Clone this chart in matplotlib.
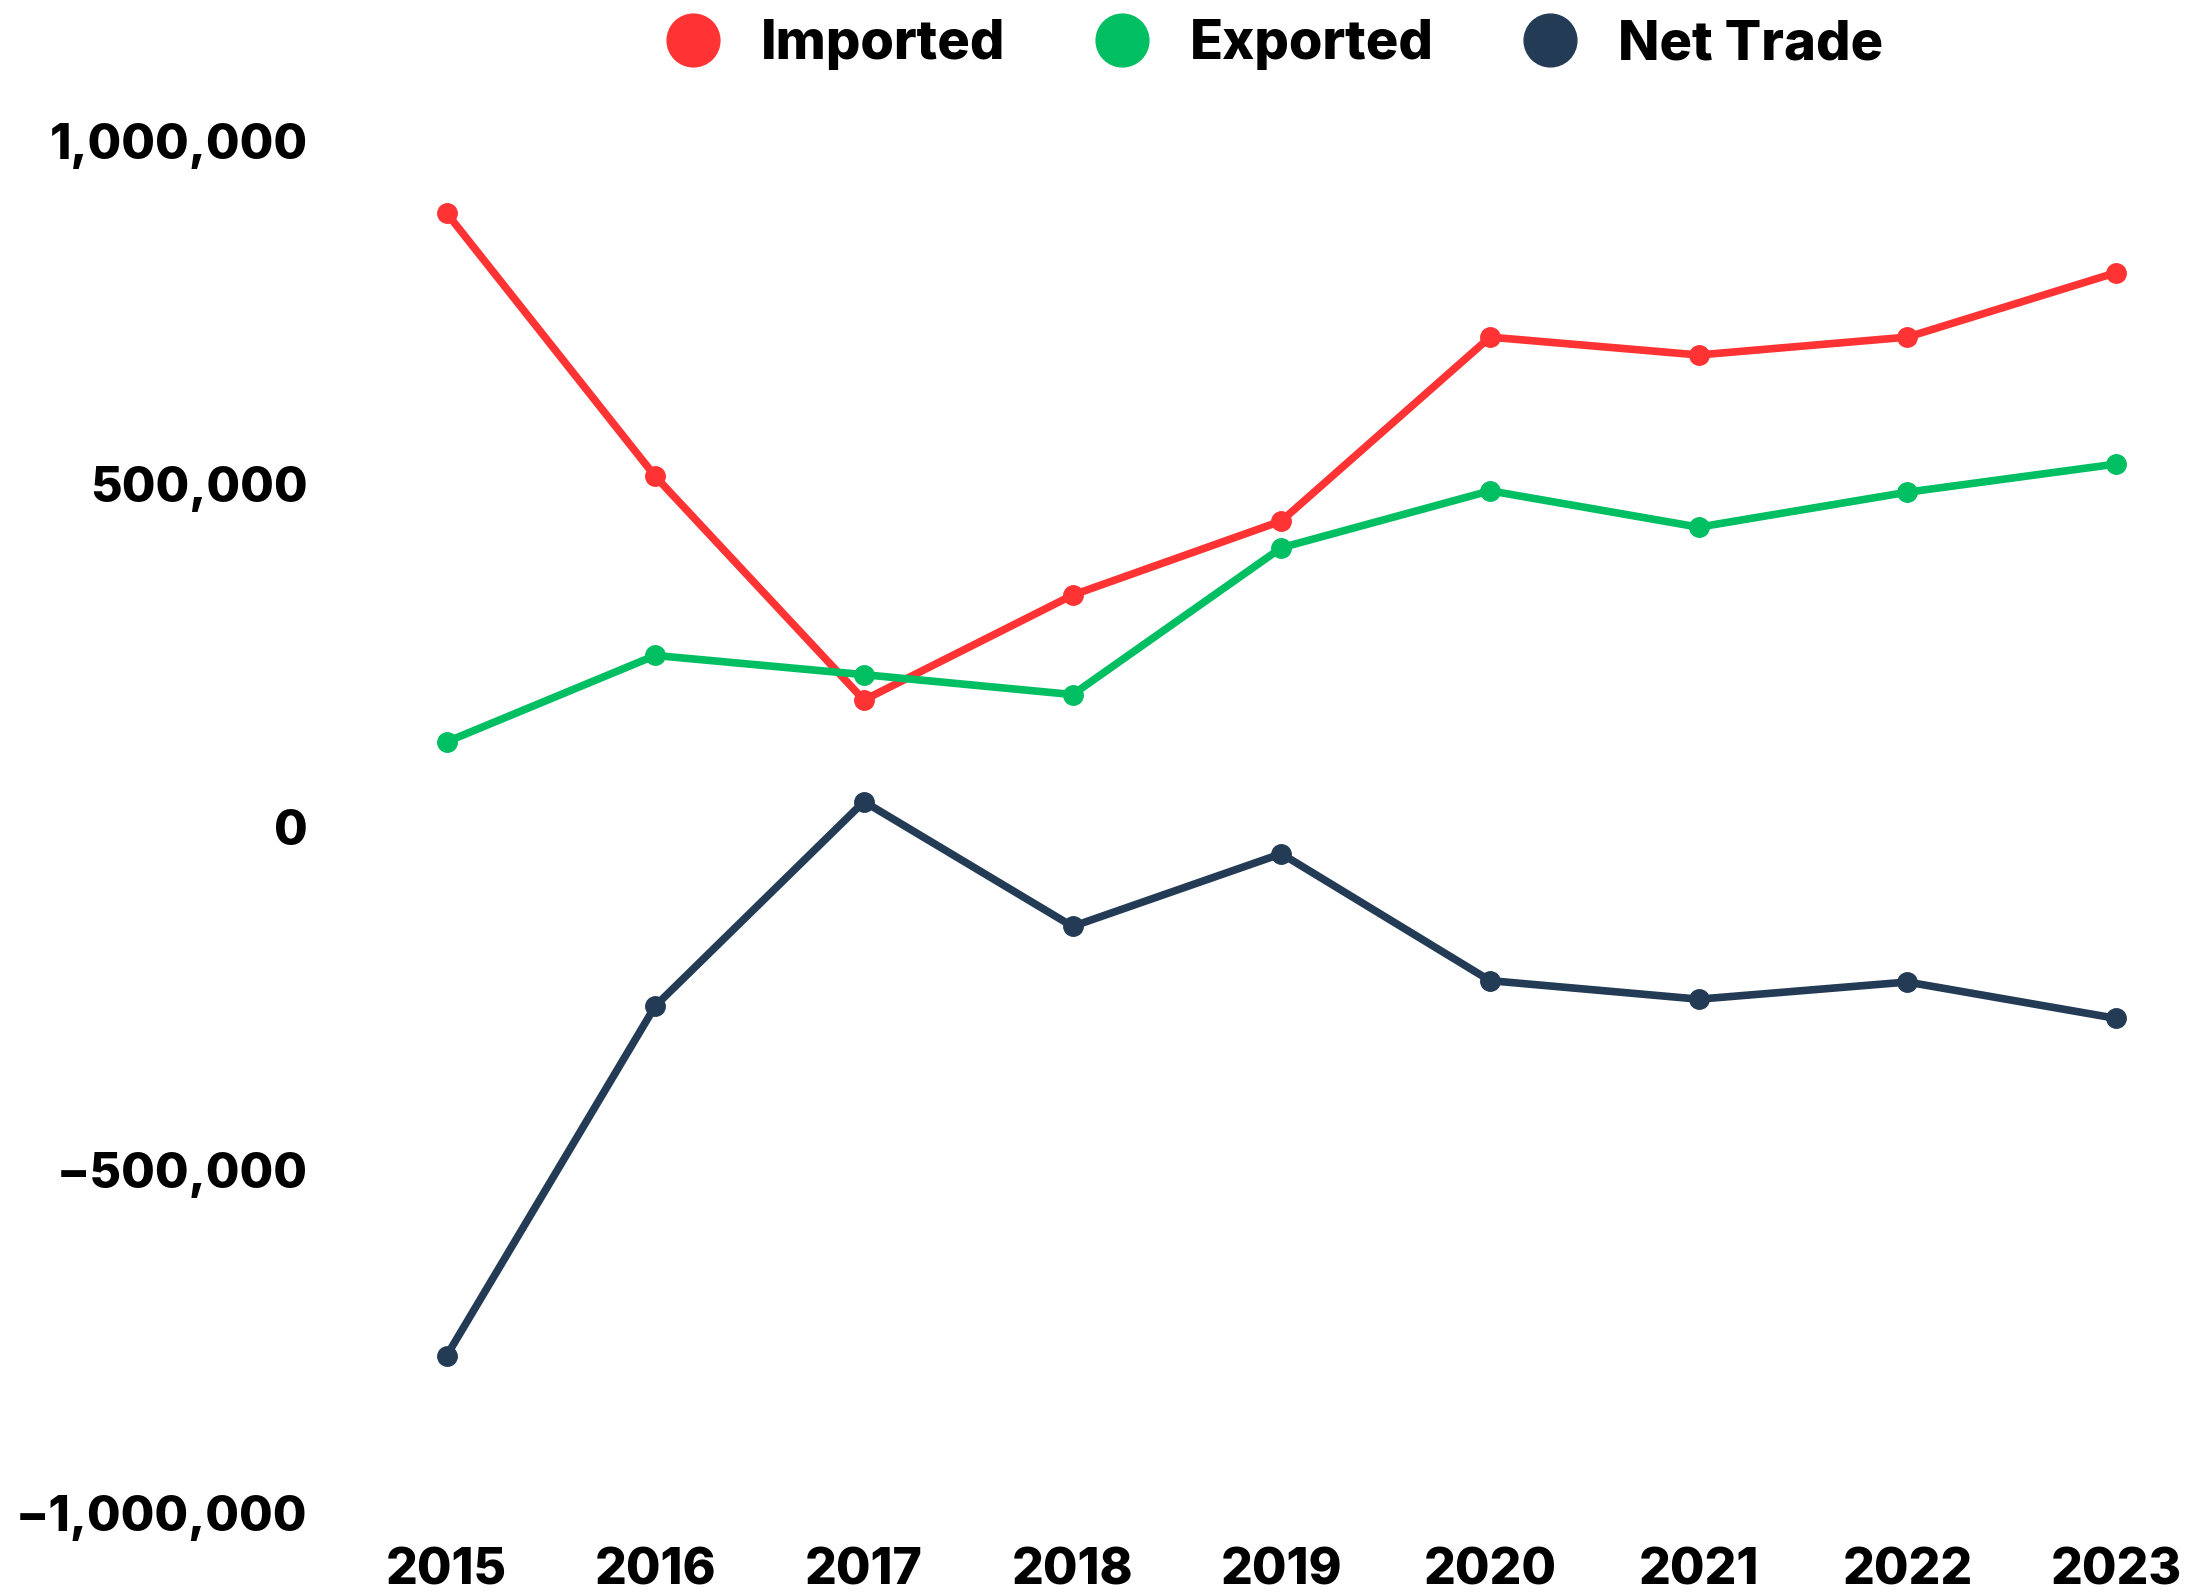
import numpy as np
import matplotlib.pyplot as plt
from matplotlib.ticker import FuncFormatter
from matplotlib.lines import Line2D

# dados
anos = [2015, 2016, 2017, 2018, 2019, 2020, 2021, 2022, 2023]
importado = [895000, 511000, 185000, 338000, 446000, 714000, 688000, 714000, 808000]
exportado = [124000, 250000, 222000, 193000, 407000, 490000, 437000, 488000, 529000]
saldo = [-771000, -261000, 37000, -145000, -39000, -224000, -251000, -226000, -279000]

cores = {'Imported': '#FF3333', 'Exported': '#00BF63', 'Net Trade': '#243B55'}
fonte = 'Inter'

fig = plt.figure(figsize=(21.89, 15.96), dpi=100)
ax = fig.add_axes([0.204, 0.052, 0.7627, 0.8597])

for nome, vals in [('Imported', importado), ('Exported', exportado), ('Net Trade', saldo)]:
    ax.plot(anos, vals, color=cores[nome], lw=5.5, marker='o', ms=14,
            clip_on=False, label=nome)

ax.set_xlim(2015, 2023)
ax.set_ylim(-1000000, 1000000)
ax.set_xticks(anos)
ax.set_yticks([-1000000, -500000, 0, 500000, 1000000])
ax.yaxis.set_major_formatter(FuncFormatter(lambda v, p: f'{int(v):,}'.replace('-', '\u2212')))

for s in ax.spines.values():
    s.set_visible(False)
ax.tick_params(length=0)
ax.tick_params(axis='y', pad=100, labelsize=35)
ax.tick_params(axis='x', pad=25, labelsize=36)
for lb in ax.get_xticklabels() + ax.get_yticklabels():
    lb.set_fontfamily(fonte)
    lb.set_fontweight('heavy')

# legenda com circulos grandes
handles = [Line2D([], [], ls='none', marker='o', ms=38, color=cores[n]) for n in cores]
leg = fig.legend(handles, list(cores.keys()), loc='center', bbox_to_anchor=(0.576, 0.972),
                 ncol=3, frameon=False, handletextpad=0.25, columnspacing=1.15,
                 prop={'family': fonte, 'weight': 'heavy', 'size': 39})

fig.savefig('out.png', dpi=100, facecolor='white')
